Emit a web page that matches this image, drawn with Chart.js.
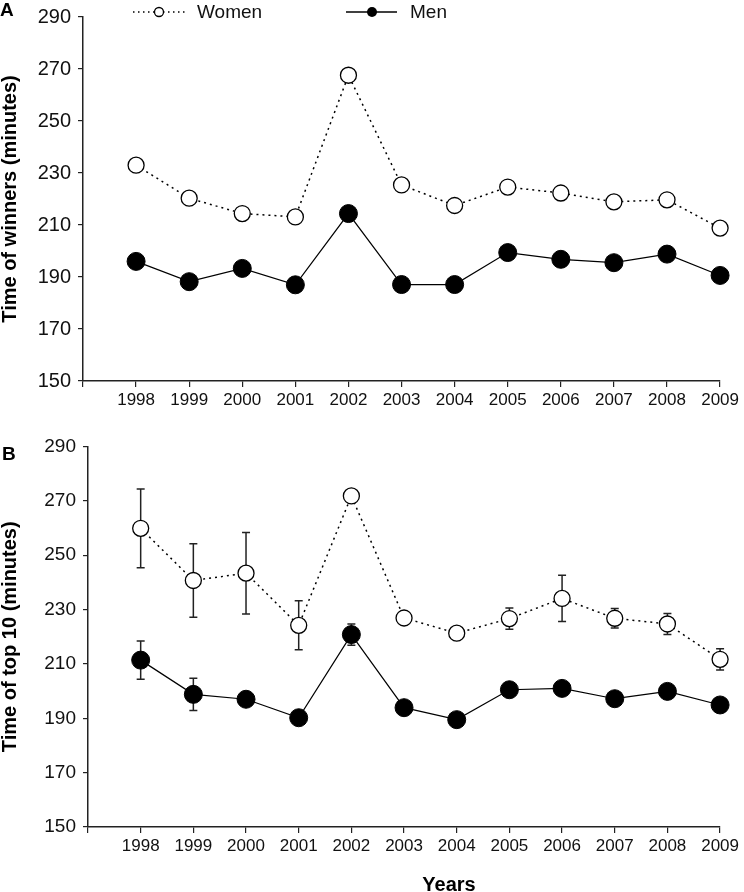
<!DOCTYPE html>
<html>
<head>
<meta charset="utf-8">
<script src="https://cdn.jsdelivr.net/npm/chart.js@4.4.1/dist/chart.umd.min.js"></script>
<style>
    body { margin: 0; width: 744px; height: 892px; overflow: hidden; background: #fff; position: relative;
           font-family: "Liberation Sans", Arial, sans-serif; }
    canvas { position: absolute; left: 0; }
    #chartA { top: 0; }
    #chartB { top: 430px; }
    .panel { position: absolute; font-weight: bold; font-size: 19px; line-height: 19px; color: #000; }
    #xTitle { position: absolute; left: 349px; top: 874px; width: 200px; text-align: center;
              font-weight: bold; font-size: 20px; line-height: 20px; color: #000; }
</style>
</head>
<body>
<canvas id="chartA" width="744" height="420"></canvas>
<canvas id="chartB" width="744" height="462"></canvas>
<div class="panel" style="left:0px;top:0px">A</div>
<div class="panel" style="left:2px;top:444px">B</div>
<div id="xTitle">Years</div>
<script>
const FONT = '"Liberation Sans", Arial, sans-serif';

const years = [1998, 1999, 2000, 2001, 2002, 2003, 2004, 2005, 2006, 2007, 2008, 2009];

// panel A - winners
const winnersWomen = [233, 220.3, 214.4, 213.1, 267.6, 225.4, 217.5, 224.6, 222.3, 218.9, 219.7, 208.8];
const winnersMen = [196, 188.2, 193.3, 187, 214.4, 187.1, 187.1, 199.4, 196.8, 195.5, 198.8, 190.6];

// panel B - top 10 (mean and SD)
const top10Women = [259.9, 240.7, 243.4, 224.2, 271.8, 226.9, 221.3, 226.7, 234.1, 226.8, 224.7, 211.7];
const top10WomenSd = [14.5, 13.5, 15, 9, 2, 2, 2, 3.9, 8.5, 3.6, 3.9, 3.9];
const top10Men = [211.4, 198.8, 197, 190.2, 220.8, 193.9, 189.5, 200.5, 201, 197.2, 199.9, 194.9];
const top10MenSd = [7, 5.9, 2, 2, 3.9, 2, 2, 2, 2, 2, 2, 2];

const yMin = 150, yMax = 290, yStep = 20;

function toPoints(values) {
    return years.map((yr, i) => ({ x: yr, y: values[i] }));
}

const errorBarPlugin = {
    id: 'errorBars',
    beforeDatasetsDraw(chart) {
        const ctx = chart.ctx;
        const xs = chart.scales.x, ys = chart.scales.y;
        ctx.save();
        ctx.strokeStyle = '#222';
        ctx.lineWidth = 1.5;
        chart.data.datasets.forEach(ds => {
            if (!ds.errors) return;
            ds.data.forEach((p, i) => {
                const x = xs.getPixelForValue(p.x);
                const top = ys.getPixelForValue(p.y + ds.errors[i]);
                const bot = ys.getPixelForValue(p.y - ds.errors[i]);
                ctx.beginPath();
                ctx.moveTo(x, top); ctx.lineTo(x, bot);
                ctx.moveTo(x - 4, top); ctx.lineTo(x + 4, top);
                ctx.moveTo(x - 4, bot); ctx.lineTo(x + 4, bot);
                ctx.stroke();
            });
        });
        ctx.restore();
    }
};

const legendPlugin = {
    id: 'sexLegend',
    afterDraw(chart) {
        const ctx = chart.ctx;
        const y = 12;
        ctx.save();
        ctx.strokeStyle = '#000';
        ctx.lineWidth = 1.3;
        // women
        ctx.setLineDash([1.5, 3.5]);
        ctx.beginPath(); ctx.moveTo(133, y); ctx.lineTo(186, y); ctx.stroke();
        ctx.setLineDash([]);
        ctx.beginPath(); ctx.arc(159, y, 4.5, 0, Math.PI * 2);
        ctx.fillStyle = '#fff'; ctx.fill(); ctx.stroke();
        // men
        ctx.beginPath(); ctx.moveTo(346, y); ctx.lineTo(397, y); ctx.stroke();
        ctx.beginPath(); ctx.arc(372, y, 5, 0, Math.PI * 2);
        ctx.fillStyle = '#000'; ctx.fill();

        ctx.font = '19px ' + FONT;
        ctx.fillStyle = '#111';
        ctx.textBaseline = 'middle';
        ctx.fillText('Women', 197, y + 1);
        ctx.fillText('Men', 410, y + 1);
        ctx.restore();
    }
};

function makeDatasets(women, men, womenErr, menErr) {
    return [
        {
            label: 'Women',
            data: toPoints(women),
            errors: womenErr,
            clip: false,
            borderColor: '#000',
            borderWidth: 1.5,
            borderDash: [2, 4],
            pointRadius: 8,
            pointBackgroundColor: '#fff',
            pointBorderColor: '#000',
            pointBorderWidth: 1.3,
            tension: 0
        },
        {
            label: 'Men',
            data: toPoints(men),
            errors: menErr,
            clip: false,
            borderColor: '#000',
            borderWidth: 1.2,
            pointRadius: 9,
            pointBackgroundColor: '#000',
            pointBorderColor: '#000',
            pointBorderWidth: 1,
            tension: 0
        }
    ];
}

function makeScales(yTitle, axisWidth, xHeight, yFontSize) {
    return {
        x: {
            type: 'linear',
            min: years[0] - 1,
            max: years[years.length - 1],
            afterFit(s) { s.height = xHeight; },
            ticks: {
                stepSize: 1,
                autoSkip: false,
                maxTicksLimit: 20,
                maxRotation: 0,
                padding: 5,
                color: '#111',
                font: { family: FONT, size: 17, lineHeight: 1 },
                callback: v => (v < years[0] ? '' : String(v))
            },
            grid: { display: true, drawOnChartArea: false, drawTicks: true, tickLength: 6, color: '#222', lineWidth: 1.2 },
            border: { display: true, color: '#222', width: 1.5 }
        },
        y: {
            min: yMin,
            max: yMax,
            afterFit(s) { s.width = axisWidth; },
            ticks: {
                stepSize: yStep,
                padding: 7,
                color: '#111',
                font: { family: FONT, size: yFontSize, lineHeight: 1 }
            },
            grid: { display: true, drawOnChartArea: false, drawTicks: true, tickLength: 5, color: '#222', lineWidth: 1.2 },
            border: { display: true, color: '#222', width: 1.5 },
            title: {
                display: true,
                text: yTitle,
                color: '#000',
                padding: 0,
                font: { family: FONT, size: 20, weight: 'bold', lineHeight: 1 }
            }
        }
    };
}

function baseOptions(scales, padding) {
    return {
        responsive: false,
        animation: false,
        devicePixelRatio: 1,
        layout: { padding: padding },
        plugins: { legend: { display: false }, tooltip: { enabled: false } },
        scales: scales
    };
}

new Chart(document.getElementById('chartA').getContext('2d'), {
    type: 'line',
    data: { datasets: makeDatasets(winnersWomen, winnersMen, null, null) },
    options: baseOptions(makeScales('Time of winners (minutes)', 83, 39, 20), { top: 9, right: 22, bottom: 0, left: 0 }),
    plugins: [legendPlugin]
});

new Chart(document.getElementById('chartB').getContext('2d'), {
    type: 'line',
    data: { datasets: makeDatasets(top10Women, top10Men, top10WomenSd, top10MenSd) },
    options: baseOptions(makeScales('Time of top 10 (minutes)', 88, 65, 19), { top: 15, right: 19, bottom: 0, left: 0 }),
    plugins: [errorBarPlugin]
});
</script>
</body>
</html>
